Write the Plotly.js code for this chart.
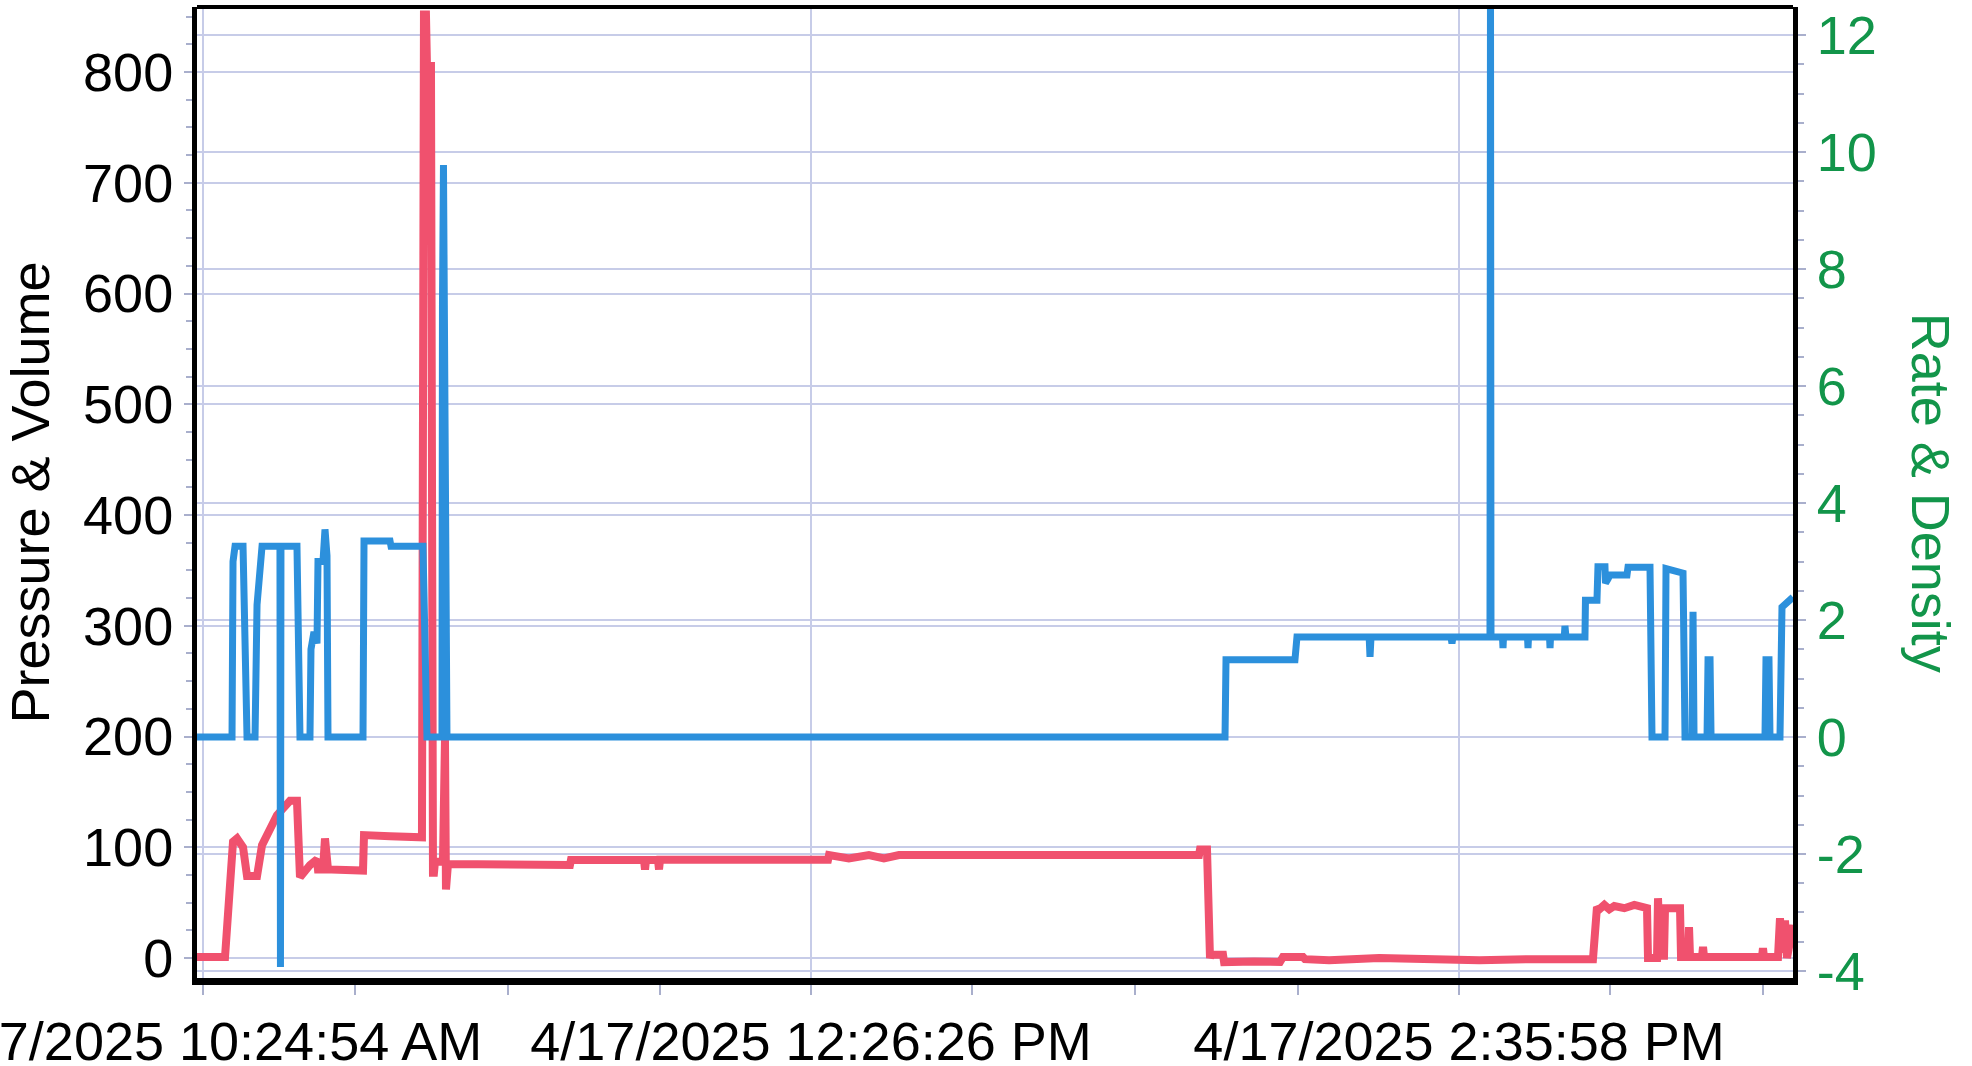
<!DOCTYPE html>
<html>
<head>
<meta charset="utf-8">
<script src="https://cdn.plot.ly/plotly-3.0.1.min.js"></script>
<style>
  html, body { margin: 0; padding: 0; background: #ffffff; }
  #chart { width: 1972px; height: 1066px; }
</style>
</head>
<body>
<div id="chart"></div>
<script>
// ---- data ----
const day = '2025-04-17 ';

// Pressure (red, left axis "Pressure & Volume")
const pressureTimes = [
  '10:23:42','10:29:18','10:30:54','10:31:42','10:32:54','10:33:42','10:35:42','10:36:42',
  '10:39:41','10:42:17','10:43:41','10:44:17','10:46:17','10:47:41','10:47:53','10:48:53',
  '10:49:17','10:49:53','10:56:53','10:57:05','11:02:17','11:08:40','11:09:04','11:09:28',
  '11:09:52','11:10:04','11:10:28','11:10:52','11:11:04','11:11:16','11:12:52','11:13:16',
  '11:13:28','11:13:52','11:38:15','11:38:27','11:53:03','11:53:15','11:53:27','11:55:51',
  '11:56:03','11:56:15','12:29:50','12:30:02','12:34:00','12:38:00','12:41:00','12:44:01',
  '13:43:59','13:44:11','13:45:35','13:46:11','13:46:23','13:48:47','13:49:00','13:55:00',
  '14:00:10','14:00:46','14:04:46','14:05:10','14:10:00','14:20:00','14:30:00','14:40:00',
  '14:50:00','15:02:44','15:03:32','15:04:00','15:05:00','15:06:00','15:07:00','15:09:00',
  '15:11:00','15:13:32','15:13:44','15:15:32','15:15:44','15:16:08','15:16:56','15:17:08',
  '15:20:08','15:20:20','15:21:44','15:21:56','15:22:08','15:24:32','15:24:44','15:24:56',
  '15:36:31','15:36:43','15:36:55','15:39:43','15:40:07','15:40:31','15:41:07','15:41:31',
  '15:42:43'
];
const pressureValues = [
  1, 1, 105, 108, 100, 74, 74, 102,
  129, 142, 142, 73, 84, 89, 80, 80,
  108, 80, 79, 111, 110, 109, 852, 852,
  760, 790, 809, 77, 77, 87, 87, 197,
  62, 85, 84, 88.5, 88.5, 80, 88.5, 88.5,
  80, 88.7, 88.7, 93, 90, 93, 90, 93,
  93, 98, 98, 0, 3, 3, -3.6, -3,
  -3.6, 1, 1, -1, -2, 0, -1, -2,
  -1, -1, 46, 44, 48, 44, 47, 45,
  48, 45, 0, 0, 54, 2, 2, 45,
  45, 1, 1, 28, 1, 1, 10, 1,
  1, 9, 1, 1, 36, 5, 34, 0,
  30
];

// Rate (blue, right axis "Rate & Density")
const rateTimes = [
  '10:23:42','10:30:42','10:30:54','10:31:18','10:32:54','10:33:42','10:35:18','10:35:42',
  '10:36:42','10:40:17','10:40:23','10:40:29','10:43:41','10:44:17','10:46:17','10:46:29',
  '10:47:05','10:47:41','10:47:53','10:48:53','10:49:17','10:49:29','10:49:41','10:49:53',
  '10:56:53','10:57:05','11:02:17','11:02:29','11:08:52','11:09:40','11:12:40','11:12:46',
  '11:12:58','11:13:40','13:49:11','13:49:23','14:03:10','14:03:34','14:18:00','14:18:10',
  '14:18:22','14:34:21','14:34:33','14:34:45','14:42:09','14:42:15','14:42:21','14:44:39',
  '14:44:45','14:44:51','14:49:39','14:49:45','14:49:51','14:54:03','14:54:09','14:54:15',
  '14:57:00','14:57:08','14:57:20','15:01:08','15:01:14','15:03:32','15:03:44','15:05:08',
  '15:05:14','15:05:44','15:06:08','15:09:32','15:09:44','15:14:08','15:14:32','15:17:08',
  '15:17:20','15:20:44','15:21:08','15:22:32','15:22:44','15:22:56','15:25:32','15:25:44',
  '15:26:08','15:26:20','15:37:07','15:37:19','15:37:55','15:38:07','15:40:07','15:40:31',
  '15:42:43'
];
const rateValues = [
  0, 0, 3.0, 3.26, 3.26, 0, 0, 2.26,
  3.26, 3.26, -3.93, 3.26, 3.26, 0, 0, 1.5,
  1.8, 1.6, 3.0, 3.0, 3.55, 3.2, 3.1, 0,
  0, 3.35, 3.35, 3.26, 3.26, 0, 0, 7.4,
  9.78, 0, 0, 1.32, 1.32, 1.71, 1.71, 1.37,
  1.71, 1.71, 1.6, 1.71, 1.71, 13, 1.71, 1.71,
  1.52, 1.71, 1.71, 1.52, 1.71, 1.71, 1.52, 1.71,
  1.71, 1.9, 1.71, 1.71, 2.34, 2.34, 2.91, 2.91,
  2.63, 2.7, 2.77, 2.77, 2.9, 2.9, 0, 0,
  2.88, 2.8, 0, 0, 2.14, 0, 0, 1.32,
  1.32, 0, 0, 1.32, 1.32, 0, 0, 2.22,
  2.39
];

// x-axis ticks
const tickTimes = ['10:24:54', '12:26:26', '14:35:58'];
const tickLabels = ['4/17/2025 10:24:54 AM', '4/17/2025 12:26:26 PM', '4/17/2025 2:35:58 PM'];
const minorTickTimes = ['10:55:18', '11:25:54', '11:56:18', '12:58:42', '13:31:06', '14:03:42', '15:06:06', '15:36:42'];
const xStart = '10:23:42';
const xEnd = '15:42:43';

// right-axis ticks (plain hyphen minus, as in the picture)
const rightTickVals = [-4, -2, 0, 2, 4, 6, 8, 10, 12];
const rightTickText = ['-4', '-2', '0', '2', '4', '6', '8', '10', '12'];

// ---- chart ----
const withDay = a => a.map(t => day + t);

const font = 'Liberation Sans, Arial, Helvetica, sans-serif';
const gridColor = '#c7cce8';
const tickColor = '#a9afcc';
const green = '#12954a';
const fs = 54;

const traces = [
  {
    x: withDay(pressureTimes), y: pressureValues, name: 'Pressure',
    type: 'scatter', mode: 'lines', yaxis: 'y',
    line: { color: '#f0516e', width: 8 }
  },
  {
    x: withDay(rateTimes), y: rateValues, name: 'Rate',
    type: 'scatter', mode: 'lines', yaxis: 'y2',
    line: { color: '#2c90dc', width: 7 }
  }
];

const layout = {
  width: 1972, height: 1066,
  margin: { l: 197, r: 179, t: 7, b: 88 },
  paper_bgcolor: '#ffffff', plot_bgcolor: '#ffffff',
  showlegend: false,
  font: { family: font, color: '#000000', size: fs },
  xaxis: {
    type: 'date',
    range: [day + xStart, day + xEnd],
    tickmode: 'array',
    tickvals: withDay(tickTimes),
    ticktext: tickLabels,
    ticks: 'outside', ticklen: 10, tickwidth: 2, tickcolor: tickColor,
    showgrid: true, gridcolor: gridColor, gridwidth: 2,
    showline: true, linecolor: '#000000', linewidth: 7,
    zeroline: false,
    tickfont: { family: font, size: fs, color: '#000000' },
    ticklabeloverflow: 'allow',
    minor: { tickmode: 'array', tickvals: withDay(minorTickTimes), ticks: 'outside', ticklen: 10, tickwidth: 2, tickcolor: tickColor, showgrid: false }
  },
  yaxis: {
    range: [-18, 858.7],
    tick0: 0, dtick: 100,
    ticks: 'outside', ticklen: 8, tickwidth: 2, tickcolor: tickColor,
    showgrid: true, gridcolor: gridColor, gridwidth: 2,
    showline: true, linecolor: '#000000', linewidth: 5,
    zeroline: false,
    tickfont: { family: font, size: fs, color: '#000000' },
    minor: { dtick: 25, ticks: 'outside', ticklen: 6, tickwidth: 2, tickcolor: tickColor, showgrid: false },
    title: { text: 'Pressure & Volume', font: { family: font, size: fs, color: '#000000' }, standoff: 18 }
  },
  yaxis2: {
    overlaying: 'y', side: 'right',
    range: [-4.12, 12.48],
    tickmode: 'array', tickvals: rightTickVals, ticktext: rightTickText,
    ticks: 'outside', ticklen: 8, tickwidth: 2, tickcolor: tickColor,
    showgrid: true, gridcolor: gridColor, gridwidth: 2,
    showline: true, linecolor: '#000000', linewidth: 5,
    zeroline: false,
    tickfont: { family: font, size: fs, color: green },
    minor: { dtick: 0.5, ticks: 'outside', ticklen: 6, tickwidth: 2, tickcolor: tickColor, showgrid: false }
  },
  shapes: [
    { type: 'line', xref: 'paper', yref: 'paper', x0: 0, x1: 1, y0: 1, y1: 1, line: { color: '#000000', width: 4 } }
  ],
  annotations: [
    { text: 'Rate & Density', xref: 'paper', yref: 'paper', x: 1.087, y: 0.5, xanchor: 'center', yanchor: 'middle',
      textangle: 90, showarrow: false, font: { family: font, size: fs, color: green } }
  ]
};

Plotly.newPlot('chart', traces, layout, { displayModeBar: false, staticPlot: true });
</script>
</body>
</html>
